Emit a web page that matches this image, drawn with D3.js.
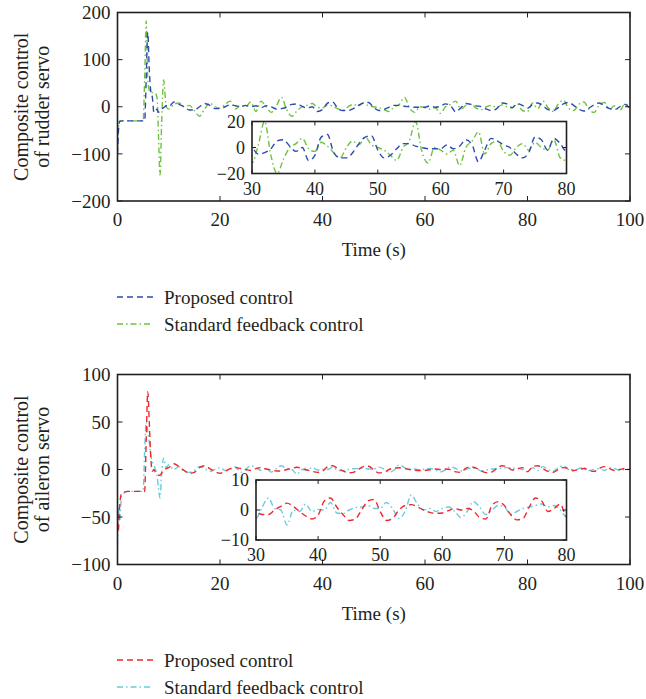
<!DOCTYPE html>
<html>
<head>
<meta charset="utf-8">
<script src="https://cdn.jsdelivr.net/npm/d3@7"></script>
<style>
  body { margin: 0; background: #fff; }
  svg text { font-family: "Liberation Serif", "Times New Roman", "DejaVu Serif", serif; }
</style>
</head>
<body>
<svg id="chart" width="646" height="699"></svg>
<script>
// time grid: fine steps through the start-up transient, then every second
var transientTime = [0, 0.15, 0.4, 0.8, 2, 4, 5.0, 5.3, 5.6, 5.9, 6.2, 6.5, 6.8, 7.1, 7.4, 7.7, 8.0, 8.3, 8.6, 9.0, 9.5];
var steadyTime = [10, 11, 12, 13, 14, 15, 16, 17, 18, 19, 20, 21, 22, 23, 24, 25, 26, 27, 28, 29,
  30, 31, 32, 33, 34, 35, 36, 37, 38, 39, 40, 41, 42, 43, 44, 45, 46, 47, 48, 49,
  50, 51, 52, 53, 54, 55, 56, 57, 58, 59, 60, 61, 62, 63, 64, 65, 66, 67, 68, 69,
  70, 71, 72, 73, 74, 75, 76, 77, 78, 79, 80, 81, 82, 83, 84, 85, 86, 87, 88, 89,
  90, 91, 92, 93, 94, 95, 96, 97, 98, 99, 100];
var time = transientTime.concat(steadyTime);

// rudder servo (top panel)
var rudderProposed = [-100, -60, -32, -30, -30, -30, -30, -30, 60, 158, 80, 32, 20, -12, -10, -5, -12, -8, -5, -2, 2,
  0, 10, 5, 0, -7, -7, 0, 7, 3, -4, -4, 0, 4, 2, 0, 3, 0, 2, -2, 2,
  0, -5, -4, -1, 5, 6, 1, -3, 0, -10, -6, 8, 10, -4, -8, -8, -4, 3, 8, 9,
  -2, -8, -6, -1, 3, 3, 1, 0, -1, -1, -1, 2, -1, 1, 6, 2, -11, -2, 7, 5,
  2, 0, -5, -8, -4, 8, 6, -2, 7, 3, -3, 5, 8, 2, -6, -8, -2, 6, 9, 3,
  -5, -9, -3, 4, 8, 2, -4, -6, 0, 5, -4];
var rudderStandard = [-90, -50, -30, -30, -30, -30, -30, 60, 182, 60, 35, 30, 30, 28, 28, 20, -60, -145, -40, 57, 0,
  -5, 5, 8, 0, 3, -8, -20, -5, 8, 0, -3, 5, 12, -5, 3, 0, 10, -10, 12, 0,
  -12, 2, 20, -6, -20, -9, 0, 3, 7, -1, -3, 4, 1, -4, -8, 0, 5, 2, 8, 2,
  0, -2, -6, -10, 0, 5, 20, -3, -12, 0, -2, -5, -2, -14, 0, 5, 12, -5, 3, 5,
  -3, -6, 0, 3, -2, 4, 0, -2, 6, -8, -10, 8, -4, 12, -2, -10, 6, 14, -3, -8,
  5, 10, -6, -12, 4, 9, -5, 2, -8, 6, 0];

// aileron servo (bottom panel)
var aileronProposed = [-45, -65, -40, -25, -23, -23, -23, -23, 30, 82, 50, 12, -2, 0, -3, -5, -6, -6, -4, -1, 1,
  2, 6, 3, -1, -4, -3, 2, 4, 1, -2, -4, -2, 1, 2, 1, 0, -1, 1, 2, 0.5,
  -0.5, -1.5, -1.5, 0, 1.2, 2.3, 1.2, -0.5, -2, -3, -1.7, 3, 4, 1, -1.5, -3.5, -3, 0, 3, 3.5,
  -0.5, -3.5, -2.8, 0, 1.5, 1.8, 1, 0, -0.8, -1.1, -1, -0.2, 0.5, 0, 0.5, -0.2, -2.5, -3, 1.5, 2.8,
  1.5, -1.5, -3.3, -2.8, 1, 4, 3, -0.5, 0.5, 2, -2.2, 3, 4, 1, -2, -3, 0, 2, 1, -1,
  0, 1, -1, -2, 1, 3, 1, -1, 0, 1, 0];
var aileronStandard = [-80, -40, -55, -28, -23, -23, -23, 20, 50, 40, 29, 15, 8, 5, 0, -5, -20, -30, -5, 12, 2,
  5, 0, 3, -2, -3, -1, 3, 1, -2, 0, 2, -1, 0, 3, -3, 0, 4, 2, -1, 1,
  -2.8, 1, 4, 0.5, 0, -5, 0, -0.5, 2, -0.5, 0.2, 0, 2.5, -1, -1.2, 0, 0.8, 1, 1.5, 0.5,
  0.5, 2.5, 0.5, -2.8, -0.5, 5, 2, 0, 0.5, -0.5, 0.5, 1, -0.5, -2.5, -0.5, 2.8, 1, -1.5, 0, 1.5,
  1, -1.5, -0.5, 0.5, 1, 1.5, 2, 1, 1.5, 0, -2.2, 2, -1, 3, 0, -2, 2, 4, 0, -2,
  1, 2, -1, 0, 1, -1, 2, 1, -1, 0, 0];

var xTicks = [0, 20, 40, 60, 80, 100];
var insetXTicks = [30, 40, 50, 60, 70, 80];

var panels = [
  {
    top: 12.5, bottom: 201, yDomain: [-200, 200], yTicks: [-200, -100, 0, 100, 200],
    label: ["Composite control", "of rudder servo"],
    series: [
      {values: rudderProposed, color: "#2d4cae", dash: "6,4"},
      {values: rudderStandard, color: "#6fc23f", dash: "6,3,1.5,3"}
    ],
    inset: {left: 252, right: 566.5, top: 121.5, bottom: 173.5, yDomain: [-20, 20], yTicks: [-20, 0, 20]},
    legendY: 297
  },
  {
    top: 374.5, bottom: 564.5, yDomain: [-100, 100], yTicks: [-100, -50, 0, 50, 100],
    label: ["Composite control", "of aileron servo"],
    series: [
      {values: aileronProposed, color: "#ec2a2e", dash: "6,4"},
      {values: aileronStandard, color: "#69cbdc", dash: "6,3,1.5,3"}
    ],
    inset: {left: 256, right: 566.5, top: 480, bottom: 540, yDomain: [-10, 10], yTicks: [-10, 0, 10]},
    legendY: 660
  }
];

var legendNames = ["Proposed control", "Standard feedback control"];

var svg = d3.select("#chart");
var left = 117.5, right = 630;
var ink = "#231f20";

function drawFrame(g, x, y, xt, yt, tickLen, fontSize, labelGap) {
  var x0 = x.range()[0], x1 = x.range()[1], y0 = y.range()[0], y1 = y.range()[1];
  // inward ticks on all four sides
  xt.forEach(function(t) {
    g.append("line").attr("x1", x(t)).attr("x2", x(t)).attr("y1", y0).attr("y2", y0 - tickLen)
      .attr("stroke", ink).attr("stroke-width", 1);
    g.append("line").attr("x1", x(t)).attr("x2", x(t)).attr("y1", y1).attr("y2", y1 + tickLen)
      .attr("stroke", ink).attr("stroke-width", 1);
    g.append("text").attr("x", x(t)).attr("y", y0 + labelGap)
      .attr("text-anchor", "middle").attr("font-size", fontSize).attr("fill", ink)
      .text(d3.format("d")(t));
  });
  yt.forEach(function(t) {
    g.append("line").attr("x1", x0).attr("x2", x0 + tickLen).attr("y1", y(t)).attr("y2", y(t))
      .attr("stroke", ink).attr("stroke-width", 1);
    g.append("line").attr("x1", x1).attr("x2", x1 - tickLen).attr("y1", y(t)).attr("y2", y(t))
      .attr("stroke", ink).attr("stroke-width", 1);
    g.append("text").attr("x", x0 - 7).attr("y", y(t)).attr("dy", "0.35em")
      .attr("text-anchor", "end").attr("font-size", fontSize).attr("fill", ink)
      .text(d3.format("d")(t));
  });
  g.append("rect").attr("x", x0).attr("y", y1).attr("width", x1 - x0).attr("height", y0 - y1)
    .attr("fill", "none").attr("stroke", ink).attr("stroke-width", 1.6);
}

panels.forEach(function(p, i) {
  var g = svg.append("g");

  var x = d3.scaleLinear().domain([0, 100]).range([left, right]);
  var y = d3.scaleLinear().domain(p.yDomain).range([p.bottom, p.top]);

  g.append("clipPath").attr("id", "clip" + i).append("rect")
    .attr("x", left).attr("y", p.top).attr("width", right - left).attr("height", p.bottom - p.top);

  var line = d3.line()
    .x(function(d, j) { return x(time[j]); })
    .y(function(d) { return y(d); })
    .curve(d3.curveMonotoneX);

  var plot = g.append("g").attr("clip-path", "url(#clip" + i + ")");
  p.series.slice().reverse().forEach(function(s) {
    plot.append("path").datum(s.values).attr("d", line)
      .attr("fill", "none").attr("stroke", s.color).attr("stroke-width", 1.4)
      .attr("stroke-dasharray", s.dash);
  });

  drawFrame(g, x, y, xTicks, p.yTicks, 5, 19, 25);

  // x axis title
  g.append("text").attr("x", (left + right) / 2).attr("y", p.bottom + 55)
    .attr("text-anchor", "middle").attr("font-size", 19).attr("fill", ink).text("Time (s)");

  // y axis title, two lines
  var yc = (p.top + p.bottom) / 2;
  p.label.forEach(function(txt, k) {
    g.append("text").attr("transform", "translate(" + (21 + k * 21) + "," + yc + ") rotate(-90)")
      .attr("text-anchor", "middle").attr("dy", "0.35em").attr("font-size", 20).attr("fill", ink)
      .text(txt);
  });

  // inset: zoomed view of 30-80 s
  var ins = p.inset;
  var xi = d3.scaleLinear().domain([30, 80]).range([ins.left, ins.right]);
  var yi = d3.scaleLinear().domain(ins.yDomain).range([ins.bottom, ins.top]);
  var gi = g.append("g");
  gi.append("rect").attr("x", ins.left).attr("y", ins.top)
    .attr("width", ins.right - ins.left).attr("height", ins.bottom - ins.top).attr("fill", "#fff");
  gi.append("clipPath").attr("id", "iclip" + i).append("rect")
    .attr("x", ins.left).attr("y", ins.top).attr("width", ins.right - ins.left).attr("height", ins.bottom - ins.top);

  var iline = d3.line()
    .defined(function(d, j) { return time[j] >= 29 && time[j] <= 81; })
    .x(function(d, j) { return xi(time[j]); })
    .y(function(d) { return yi(d); })
    .curve(d3.curveMonotoneX);
  var iplot = gi.append("g").attr("clip-path", "url(#iclip" + i + ")");
  p.series.slice().reverse().forEach(function(s) {
    iplot.append("path").datum(s.values).attr("d", iline)
      .attr("fill", "none").attr("stroke", s.color).attr("stroke-width", 1.4)
      .attr("stroke-dasharray", s.dash);
  });
  drawFrame(gi, xi, yi, insetXTicks, ins.yTicks, 4, 18, 21);

  // legend
  p.series.forEach(function(s, k) {
    var ly = p.legendY + k * 27;
    g.append("line").attr("x1", 117).attr("x2", 153).attr("y1", ly).attr("y2", ly)
      .attr("stroke", s.color).attr("stroke-width", 1.4).attr("stroke-dasharray", s.dash);
    g.append("text").attr("x", 164).attr("y", ly).attr("dy", "0.35em")
      .attr("font-size", 19).attr("fill", ink).text(legendNames[k]);
  });
});
</script>
</body>
</html>
